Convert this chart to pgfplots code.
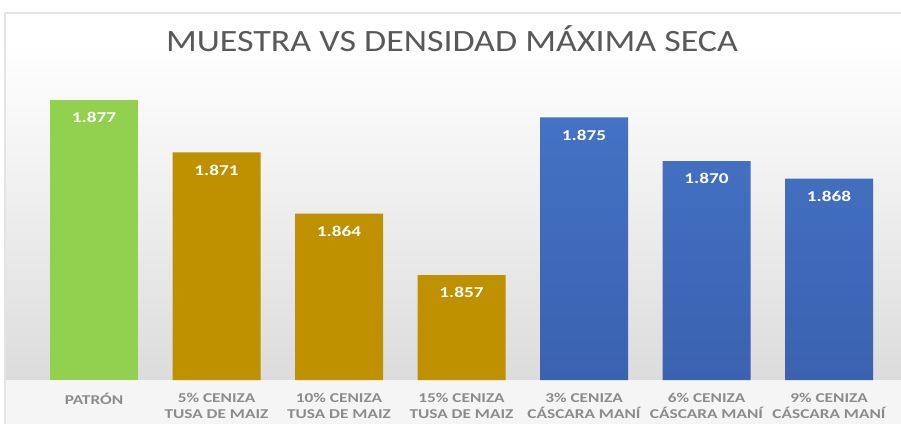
\documentclass[border=0pt]{standalone}
\usepackage{pgfplots}
\pgfplotsset{compat=1.18}
\usepackage{fontspec}
\setmainfont{Carlito}
\newfontfamily\titlefont[FakeStretch=1.16]{Carlito}
\newfontfamily\labfont[FakeStretch=1.28]{Carlito}
\definecolor{cgreen}{HTML}{92D050}
\definecolor{cgold}{HTML}{BF9000}
\definecolor{cblue}{HTML}{4472C4}
\definecolor{cbluedk}{HTML}{3A62B0}
\definecolor{ctitle}{HTML}{595959}
\definecolor{ctick}{HTML}{8C8C8C}
\begin{document}
\begin{tikzpicture}
\useasboundingbox (0,0) rectangle (901pt,423pt);
\clip (0,0) rectangle (901pt,423pt);
\fill[white] (5pt,380pt) rectangle (906pt,410pt);
\shade[top color=white, bottom color={rgb,255:red,220;green,220;blue,220}] (5pt,43pt) rectangle (906pt,380pt);
\fill[color={rgb,255:red,245;green,245;blue,245}] (5pt,-5pt) rectangle (906pt,43pt);
\draw[color={rgb,255:red,228;green,228;blue,228}, line width=1.2pt] (5pt,-5pt) rectangle (906pt,410pt);
\node[anchor=base, text=ctitle, font=\titlefont\fontsize{31}{36}\selectfont] at (452pt,371pt) {MUESTRA VS DENSIDAD MÁXIMA SECA};
\begin{axis}[
  at={(32.75pt,43pt)}, anchor=south west,
  scale only axis, width=857.5pt, height=306.25pt,
  xmin=-0.5, xmax=6.5, ymin=1.845, ymax=1.880,
  axis line style={draw=none}, tick style={draw=none},
  ytick=\empty,
  /pgf/number format/assume math mode=true,
  xtick={0,1,2,3,4,5,6},
  xticklabels={PATRÓN,{5\% CENIZA\\TUSA DE MAIZ},{10\% CENIZA\\TUSA DE MAIZ},{15\% CENIZA\\TUSA DE MAIZ},{3\% CENIZA\\CÁSCARA MANÍ},{6\% CENIZA\\CÁSCARA MANÍ},{9\% CENIZA\\CÁSCARA MANÍ}},
  xticklabel style={align=center, text=ctick, font=\labfont\bfseries\fontsize{13.5}{16}\selectfont, inner sep=0pt, yshift=-9pt, anchor=north},
  ybar, bar width=88pt, bar shift=0pt,
  nodes near coords={\pgfmathprintnumber[fixed,fixed zerofill,precision=3,assume math mode=true]{\pgfplotspointmeta}},
  nodes near coords style={anchor=north, inner sep=0pt, yshift=-12pt, text=white, font=\labfont\bfseries\fontsize{15}{18}\selectfont},
  clip=false,
]
\addplot[draw=none, fill=cgreen] coordinates {(0,1.877)};
\addplot[draw=none, fill=cgold] coordinates {(1,1.871) (2,1.864) (3,1.857)};
\addplot[draw=none, top color=cblue, bottom color=cbluedk] coordinates {(4,1.875) (5,1.870) (6,1.868)};
\end{axis}
\end{tikzpicture}
\end{document}
